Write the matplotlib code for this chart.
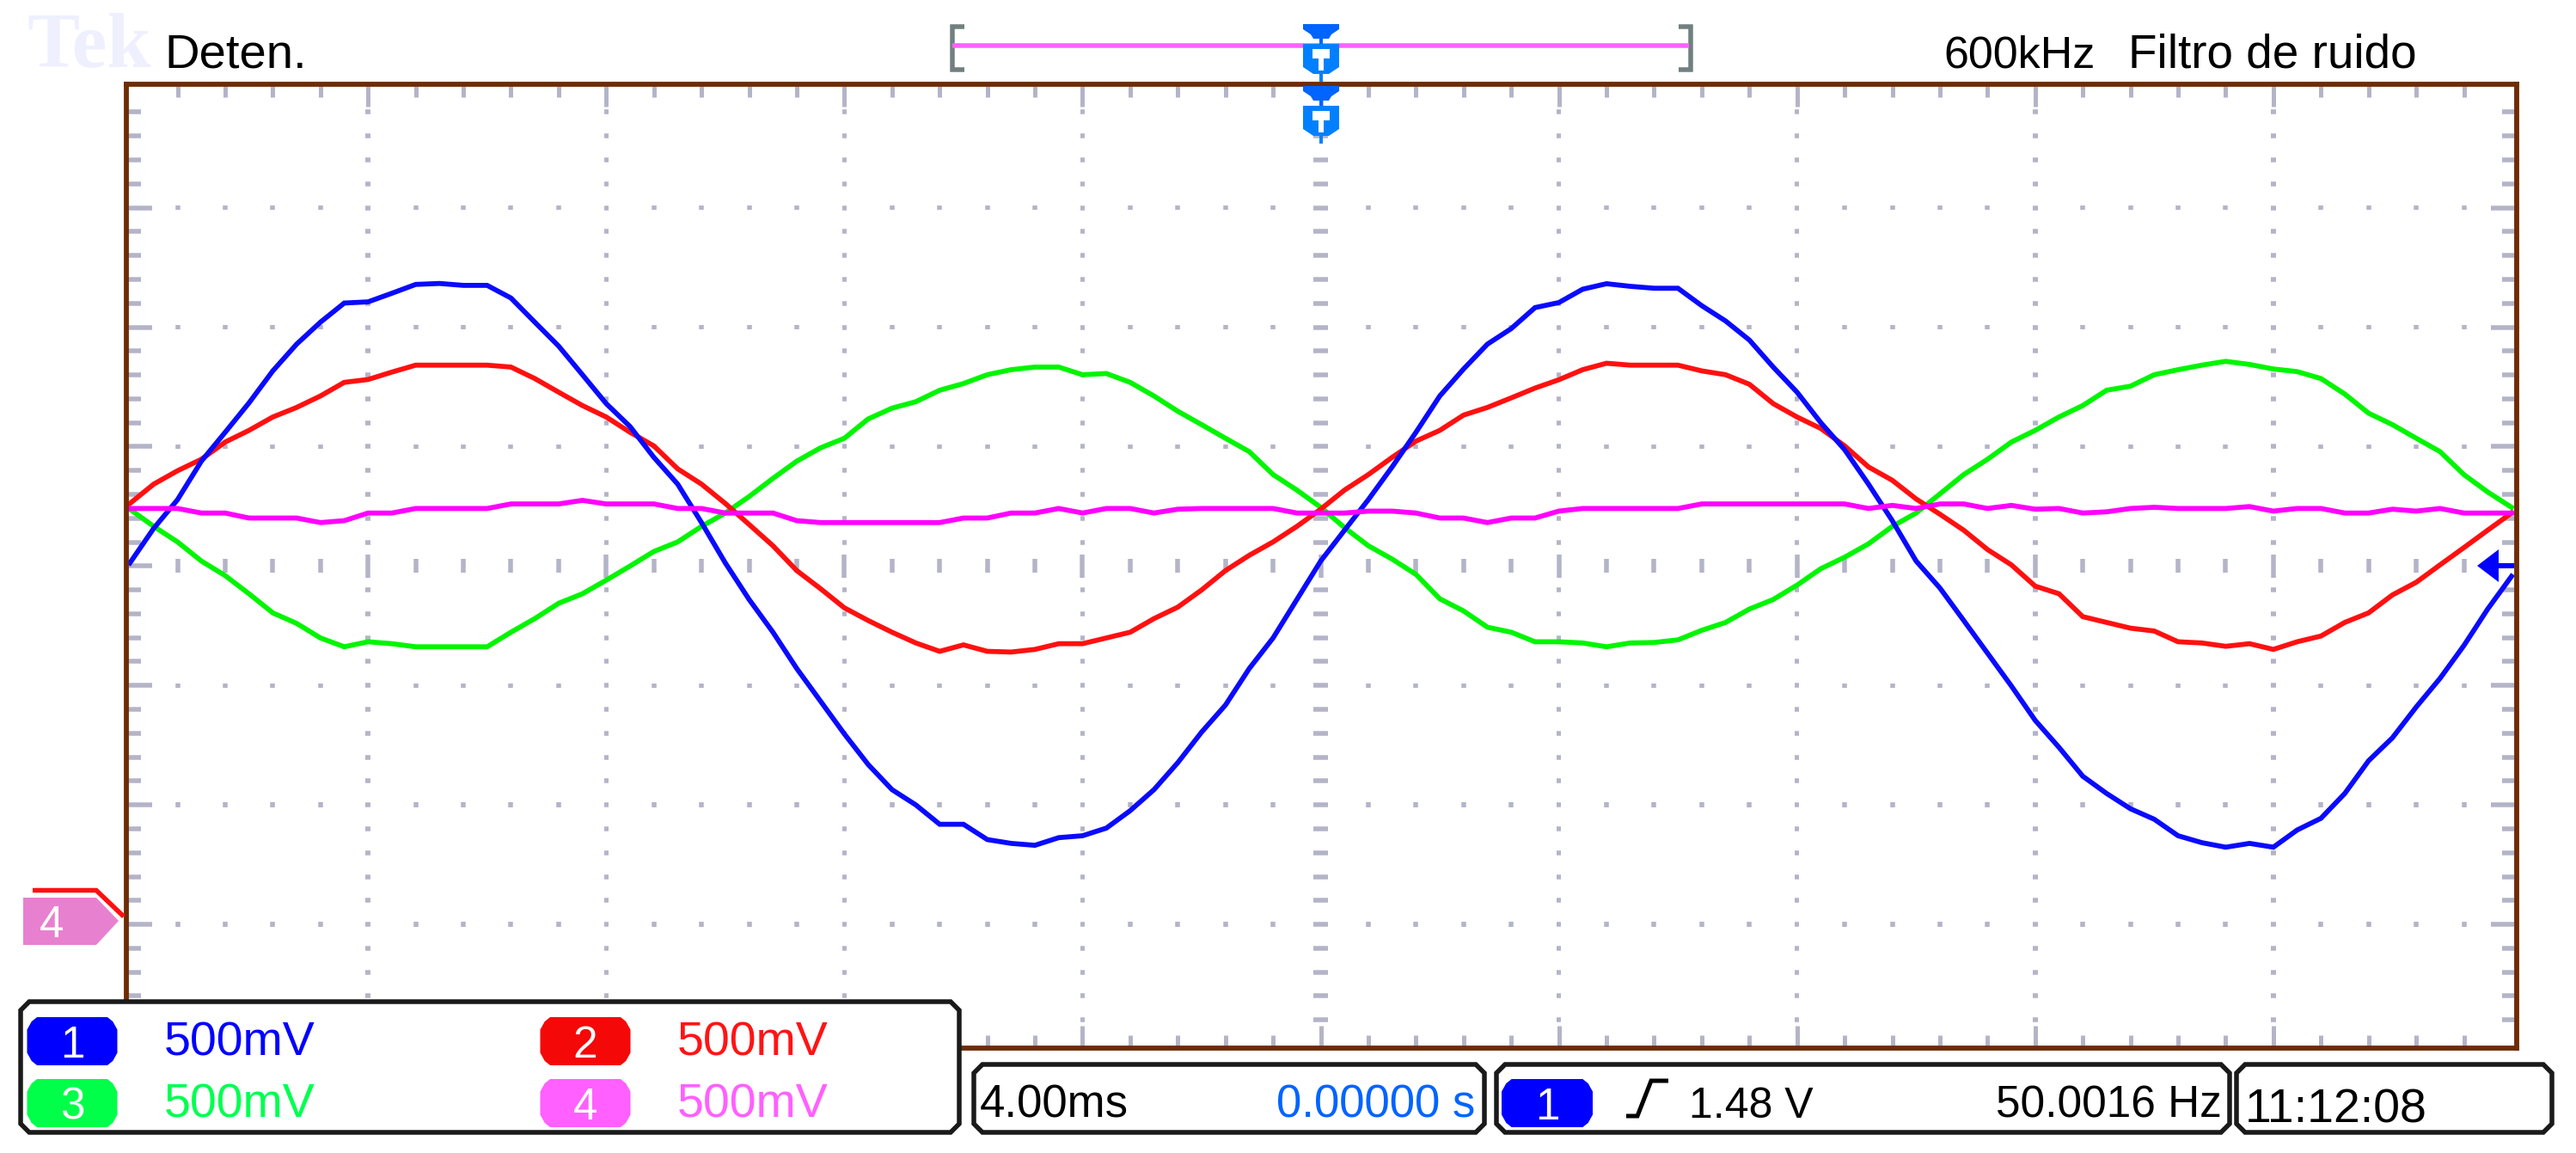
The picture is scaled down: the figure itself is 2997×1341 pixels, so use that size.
import numpy as np
import matplotlib
matplotlib.use("Agg")
import matplotlib.pyplot as plt
from matplotlib.patches import Polygon

W, H = 2997, 1341
# ---- data: time base and channel readings (mV, referred to screen centre) ----
time_ms = [round(-20 + 0.4 * i, 1) for i in range(101)]
ch1_mv = [13,158,278,439,560,683,817,929,1021,1101,1106,1142,1179,1183,1175,1175,1122,1021,921,801,680,584,455,343,182,13,
          -140,-277,-429,-566,-703,-831,-936,-1000,-1081,-1081,-1145,-1161,-1169,-1137,-1129,-1097,-1024,-936,-823,-695,-582,-429,-301,-140,21,
          150,278,415,560,712,825,929,994,1082,1103,1159,1182,1171,1163,1163,1090,1026,946,833,728,600,487,343,190,21,
          -92,-228,-365,-502,-646,-759,-880,-952,-1016,-1060,-1129,-1158,-1177,-1161,-1177,-1105,-1056,-952,-815,-719,-590,-470,-333,-180,-43]
ch2_mv = [262,343,399,447,519,568,624,664,712,769,781,812,841,841,841,841,833,785,728,672,624,560,503,407,343,262,
          174,85,-19,-95,-175,-228,-277,-322,-357,-330,-357,-360,-349,-325,-325,-301,-277,-220,-172,-100,-19,45,101,166,238,
          318,383,455,523,568,632,664,704,745,780,822,849,841,841,841,817,801,761,680,624,576,503,415,359,281,
          217,150,69,5,-84,-116,-212,-236,-260,-272,-317,-322,-336,-325,-349,-317,-293,-236,-196,-121,-68,5,77,150,222]
ch3_mv = [238,166,101,21,-40,-116,-196,-240,-301,-338,-317,-325,-338,-338,-338,-338,-277,-220,-156,-116,-59,0,61,101,166,222,
          291,367,439,495,535,616,661,688,736,764,801,822,833,833,801,806,769,712,648,592,535,479,383,318,246,
          161,85,29,-35,-137,-188,-256,-277,-317,-317,-322,-338,-322,-320,-309,-269,-236,-180,-140,-80,-11,37,93,166,222,
          302,383,447,519,568,624,672,736,753,801,822,841,857,844,825,814,785,720,640,592,535,479,383,310,246]
ch4_mv = [241,241,241,222,222,201,201,201,182,190,222,222,241,241,241,241,260,260,260,275,260,260,260,241,241,222,
          222,222,190,182,182,182,182,182,182,201,201,222,222,241,222,241,241,222,238,241,241,241,241,222,222,
          222,230,230,222,201,201,182,201,201,230,241,241,241,241,241,260,260,260,260,260,260,260,241,254,241,
          260,260,241,254,238,241,222,227,241,246,241,241,241,249,230,241,241,222,222,238,230,241,222,222,222]
channels = ["1", "2", "3", "4"]
volts_label = ["500mV", "500mV", "500mV", "500mV"]
x_major = [-16, -12, -8, -4, 0, 4, 8, 12, 16]
y_major = [-1.5, -1.0, -0.5, 0.0, 0.5, 1.0, 1.5]

BLUE, RED, GREEN, MAG = "#0a0aff", "#ff1010", "#00f500", "#ff00ff"
TICK, FRAME, DARK = "#b4b4c8", "#6e2c05", "#1a1a1a"
plt.rcParams["font.family"] = ["Liberation Sans", "DejaVu Sans"]

fig = plt.figure(figsize=(W / 100, H / 100), dpi=100, facecolor="white")
L, R, T, B = 147.0, 2927.5, 97.7, 1219.0
ax = fig.add_axes([L / W, 1 - B / H, (R - L) / W, (B - T) / H])
ax.set_xlim(-20.06, 20.08)
ax.set_ylim(-2.018, 2.018)
ax.set_xticks([]); ax.set_yticks([])
for s in ax.spines.values():
    s.set_color(FRAME); s.set_linewidth(4.2); s.set_zorder(6)
px_x = 40.14 / (R - L)
px_y = 4.036 / (B - T)
pt = 0.72  # points per output pixel

minor_x = [round(-20 + 0.8 * i, 1) for i in range(1, 50)]
minor_y = [round(-2 + 0.1 * i, 1) for i in range(1, 40)]
is_mx = lambda x: abs(x / 4 - round(x / 4)) < 1e-6
is_my = lambda y: abs(y / 0.5 - round(y / 0.5)) < 1e-6
kw = dict(color=TICK, linewidth=5.5 * pt, zorder=1)
# dots on every vertical graticule column
for x in x_major:
    half = 8.5 if x == 0 else 2.75
    for y in minor_y:
        if y != 0:
            ax.hlines(y, x - half * px_x, x + half * px_x, **kw)
# dots on every horizontal graticule row, long ones on the centre row
for y in y_major:
    for x in minor_x:
        if y == 0:
            h = 13.5 if is_mx(x) else 8
        else:
            h = 2.75
        if y != 0 and is_mx(x):
            continue
        ax.vlines(x, y - h * px_y, y + h * px_y, **kw)
# edge ticks
for y in minor_y:
    ln = 27 if is_my(y) else 14
    ax.hlines(y, -20.06, -20.06 + (3 + ln) * px_x, **kw)
    ax.hlines(y, 20.08 - (3 + ln) * px_x, 20.08, **kw)
for x in minor_x:
    ln = 23 if is_mx(x) else 12
    ax.vlines(x, 2.018 - (3 + ln) * px_y, 2.018, color=TICK, linewidth=5 * pt, zorder=1)
    ax.vlines(x, -2.018, -2.018 + (3 + ln) * px_y, color=TICK, linewidth=5 * pt, zorder=1)

t = np.array(time_ms)
for vals, col, z in [(ch3_mv, GREEN, 3), (ch2_mv, RED, 3.2), (ch1_mv, BLUE, 3.4), (ch4_mv, MAG, 3.6)]:
    ax.plot(t, np.array(vals) / 1000.0, color=col, linewidth=5.8 * pt, zorder=z, solid_joinstyle="miter")

# ---- overlay in image pixels for the instrument read-outs ----
ov = fig.add_axes([0, 0, 1, 1], facecolor="none")
ov.set_xlim(0, W); ov.set_ylim(H, 0); ov.axis("off")

def poly(pts, fc, ec="none", lw=0, z=10):
    ov.add_patch(Polygon(pts, closed=True, facecolor=fc, edgecolor=ec, linewidth=lw * pt, zorder=z, joinstyle="miter"))

def line(xs, ys, c, lw, z=11):
    ov.plot(xs, ys, color=c, linewidth=lw * pt, zorder=z, solid_capstyle="butt", solid_joinstyle="miter")

def box(x0, y0, x1, y1):
    c = 10
    poly([(x0 + c, y0), (x1 - c, y0), (x1, y0 + c), (x1, y1 - c), (x1 - c, y1), (x0 + c, y1), (x0, y1 - c), (x0, y0 + c)],
         "white", DARK, 5.5, z=9)

def badge(cx, cy, w, h, col, txt):
    a, b = w / 2, h / 2
    poly([(cx - a * .78, cy - b), (cx + a * .78, cy - b), (cx + a * .9, cy - b * .82), (cx + a, cy - b * .48),
          (cx + a, cy + b * .48), (cx + a * .9, cy + b * .82), (cx + a * .78, cy + b), (cx - a * .78, cy + b),
          (cx - a * .9, cy + b * .82), (cx - a, cy + b * .48), (cx - a, cy - b * .48), (cx - a * .9, cy - b * .82)], col)
    ov.text(cx, cy + 19, txt, color="white", fontsize=37, ha="center", va="baseline", zorder=12)

def label(x, y, s, size, col="black"):
    ov.text(x, y, s, color=col, fontsize=size, ha="left", va="baseline", zorder=12)

# top bar
ov.text(32, 78, "Tek", color="#eef0fe", fontsize=66, fontweight="bold", family="Liberation Serif", ha="left", va="baseline", zorder=8)
label(191, 78, "Deten.", 40.5)
label(2261, 78, "600kHz", 37.5)
label(2476, 78, "Filtro de ruido", 39.5)
for x0, sgn in [(1108, 1), (1967, -1)]:
    line([x0 + sgn * 14, x0, x0, x0 + sgn * 14], [30.5, 30.5, 80.5, 80.5], "#708080", 5.5)
line([1108, 1965], [53, 53], "#ff60ff", 5.5)

def trigger(y):
    c1, c2 = "#0064ff", "#0080ff"
    poly([(1516, y), (1558, y), (1558, y + 6), (1549, y + 12), (1546, y + 17), (1528, y + 17), (1525, y + 12), (1516, y + 6)], c1, z=13)
    line([1537, 1537], [y + 17, y + 23], c1, 4, z=13)
    poly([(1516, y + 23), (1558, y + 23), (1558, y + 50), (1546, y + 58), (1528, y + 58), (1516, y + 50)], c2, z=13)
    poly([(1527, y + 29), (1547, y + 29), (1547, y + 40), (1540, y + 40), (1540, y + 54), (1534, y + 54), (1534, y + 40), (1527, y + 40)], "white", z=13)
    line([1537, 1537], [y + 58, y + 67], c2, 4, z=13)
trigger(28)
trigger(100)

# ground marker of channel 4
line([38, 112, 144], [1035.5, 1035.5, 1066], RED, 5.5)
poly([(27, 1044), (112, 1044), (138, 1071), (112, 1099), (27, 1099)], "#e880d0")
ov.text(60, 1090, channels[3], color="white", fontsize=37, ha="center", va="baseline", zorder=12)

# trigger level arrow
poly([(2882, 658), (2907, 639), (2907, 677)], "#0000ff", z=13)
line([2905, 2925], [658, 658], "#0000ff", 6, z=13)

# bottom panels
box(24, 1165, 1116, 1317)
box(1133, 1238, 1727, 1317)
box(1741, 1238, 2594, 1317)
box(2602, 1238, 2969, 1317)
rows = [(84, 1211, "#0000ff", "#0000ff", 191, 1228), (681, 1211, "#f40808", "#ff1414", 788, 1228),
        (84, 1283, "#00ff48", "#00ff50", 191, 1300), (681, 1283, "#ff60ff", "#ff60ff", 788, 1300)]
for ch, vl, (cx, cy, bc, tc, tx, ty) in zip(channels, volts_label, rows):
    badge(cx, cy, 105, 56, bc, ch)
    label(tx, ty, vl, 40, tc)
label(1140, 1300, "4.00ms", 38)
label(1485, 1300, "0.00000 s", 38, "#0064ff")
badge(1800, 1283, 106, 56, "#0000ff", "1")
line([1892, 1905, 1921, 1941], [1298, 1298, 1257, 1257], "black", 5)
label(1965, 1300, "1.48 V", 36)
label(2322, 1300, "50.0016 Hz", 37)
label(2612, 1305, "11:12:08", 40)

fig.savefig("out.png", dpi=100, facecolor="white")
